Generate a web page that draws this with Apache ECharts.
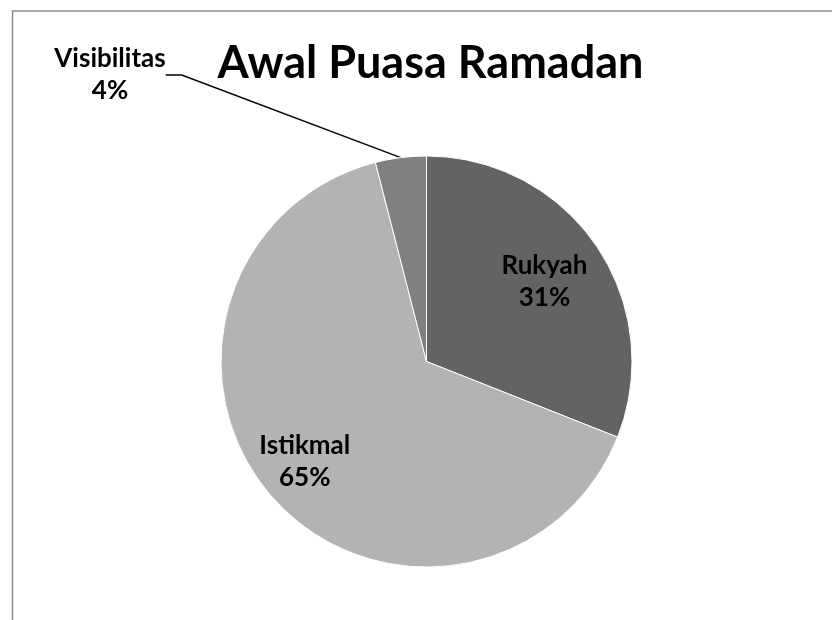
<!DOCTYPE html>
<html>
<head>
<meta charset="utf-8">
<script src="https://cdn.jsdelivr.net/npm/echarts@6/dist/echarts.min.js"></script>
<style>html,body{margin:0;padding:0;background:#fff}#c{width:832px;height:620px}</style>
</head>
<body>
<div id="c"></div>
<script>
const titleText = 'Awal Puasa Ramadan';
const categories = ['Rukyah', 'Istikmal', 'Visibilitas'];
const values = [31, 65, 4];
const colors = ['#636363', '#b3b3b3', '#808080'];

const chart = echarts.init(document.getElementById('c'), null, {renderer: 'canvas'});
const font = 'Lato, "Liberation Sans", sans-serif';
const labelOffsets = [[30.5, -20.7], [-42.4, 30.1], [0, 0]];
const data = categories.map((name, i) => {
  const item = {name: name, value: values[i], itemStyle: {color: colors[i]}};
  if (i < 2) {
    item.label = {position: 'inside', offset: labelOffsets[i]};
    item.labelLine = {show: false};
  } else {
    item.label = {position: 'outside'};
    item.labelLine = {show: true, length: 20, length2: 16, lineStyle: {color: '#000', width: 1.5}};
  }
  return item;
});

chart.setOption({
  animation: false,
  backgroundColor: '#fff',
  title: {
    text: titleText,
    left: 425.5,
    textAlign: 'center',
    top: 36,
    textStyle: {fontFamily: font, fontWeight: 'bold', fontSize: 45, color: '#000'}
  },
  graphic: [{
    type: 'rect',
    shape: {x: 12.5, y: 11, width: 1000, height: 1000},
    style: {fill: 'none', stroke: '#8c8c8c', lineWidth: 1.5},
    silent: true
  }],
  series: [{
    type: 'pie',
    center: [426.5, 361.5],
    radius: [0, 205.5],
    startAngle: 90,
    clockwise: true,
    avoidLabelOverlap: false,
    itemStyle: {borderColor: '#fff', borderWidth: 1},
    label: {
      show: true,
      formatter: '{b}\n{d}%',
      fontFamily: font,
      fontWeight: 'bold',
      fontSize: 26,
      lineHeight: 32,
      color: '#000',
      align: 'center'
    },
    labelLayout: function (params) {
      if (params.dataIndex === 2) {
        return {x: 110, y: 75, align: 'center', verticalAlign: 'middle'};
      }
      return {};
    },
    data: data
  }]
});
</script>
</body>
</html>
